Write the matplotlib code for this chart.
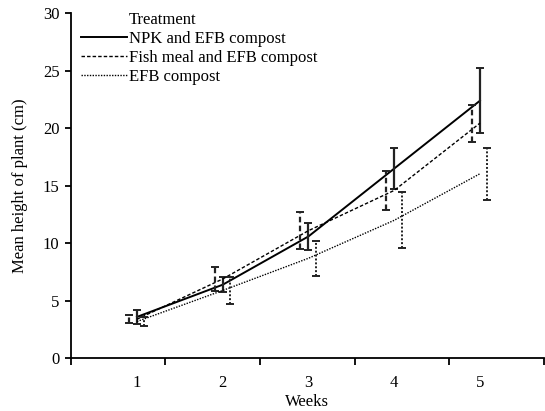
import numpy as np
import matplotlib
matplotlib.use("Agg")
import matplotlib.pyplot as plt

plt.rcParams['font.family'] = ['Liberation Serif', 'DejaVu Serif']
plt.rcParams['font.size'] = 12

weeks = [1, 2, 3, 4, 5]
series = ["NPK and EFB compost", "Fish meal and EFB compost", "EFB compost"]

npk_mean = [3.6, 6.4, 10.6, 16.5, 22.4]
npk_err = [0.6, 0.65, 1.2, 1.75, 2.85]

fish_mean = [3.4, 6.9, 11.1, 14.6, 20.45]
fish_err = [0.35, 1.05, 1.6, 1.7, 1.6]

efb_mean = [3.2, 5.9, 8.7, 12.0, 16.05]
efb_err = [0.4, 1.2, 1.5, 2.45, 2.25]

styles = ['-', (0, (2.5, 1.5)), (0, (1, 1))]
widths = [1.4, 1.0, 1.0]
bar_widths = [1.6, 1.6, 1.4]
offsets = [0.0, -0.093, 0.087]   # error bars sit a bit to the side

fig = plt.figure(figsize=(5.45, 4.11), dpi=100)
ax = fig.add_axes([0.1297, 0.1282, 0.998 - 0.1297, 0.9676 - 0.1282])

means = [npk_mean, fish_mean, efb_mean]
errs = [npk_err, fish_err, efb_err]
for name, m, e, ls, lw, bw, off in zip(series, means, errs, styles, widths, bar_widths, offsets):
    ax.plot(weeks, m, color='black', linestyle=ls, linewidth=lw, label=name)
    xb = np.array(weeks) + off
    eb = ax.errorbar(xb, m, yerr=e, fmt='none', ecolor='#222222',
                     elinewidth=bw, capsize=2.6, capthick=1.4)
    for lc in eb[2]:
        lc.set_linestyle(ls)

xmin, xmax = 0.227, 5.746
ax.set_xlim(xmin, xmax)
ax.set_ylim(0, 30)
ax.set_yticks([0, 5, 10, 15, 20, 25, 30])

# category boundary marks, labels in between
step = (xmax - xmin) / 5
ax.set_xticks([xmin + step * k for k in range(6)])
ax.set_xticklabels([])
ax.set_xticks(weeks, minor=True)
ax.set_xticklabels([str(w) for w in weeks], minor=True)
ax.tick_params(axis='x', which='major', direction='out', length=5, width=1.3)
ax.tick_params(axis='x', which='minor', length=0, pad=12, labelsize=12)
ax.tick_params(axis='y', direction='out', length=4.5, width=1.3, pad=3.5, labelsize=12)

for s in ['top', 'right']:
    ax.spines[s].set_visible(False)
for s in ['left', 'bottom']:
    ax.spines[s].set_linewidth(1.3)

ax.set_xlabel('Weeks', fontsize=12, labelpad=2)
ax.set_ylabel('Mean height of plant (cm)', fontsize=12, labelpad=11)

leg = ax.legend(loc='upper left', bbox_to_anchor=(0.0218, 0.948), frameon=False,
                handlelength=2.76, handletextpad=0.1, labelspacing=0.17,
                borderpad=0, borderaxespad=0, fontsize=12)
ax.text(0.1223, 0.981, 'Treatment', transform=ax.transAxes, fontsize=12,
        ha='left', va='center')

fig.savefig('out.png', dpi=100)
